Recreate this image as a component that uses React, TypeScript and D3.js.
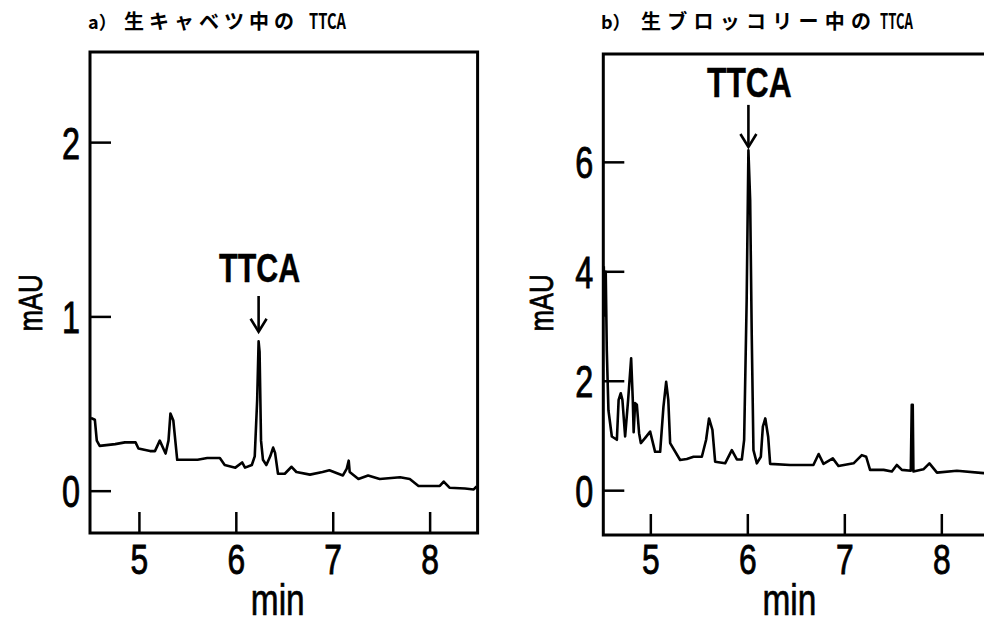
import React from 'react'
import * as d3 from 'd3'

// retention time (min) vs absorbance (mAU)
const cabbageTrace: [number, number][] = [
  [4.5, 0.42], [4.54, 0.41], [4.56, 0.29], [4.59, 0.26], [4.75, 0.27], [4.85, 0.28],
  [4.96, 0.28], [4.99, 0.245], [5.11, 0.23], [5.16, 0.23], [5.21, 0.29], [5.27, 0.216],
  [5.3, 0.29], [5.32, 0.445], [5.35, 0.405], [5.39, 0.18], [5.47, 0.18], [5.6, 0.18],
  [5.7, 0.19], [5.83, 0.19], [5.88, 0.15], [5.99, 0.135], [6.06, 0.165], [6.09, 0.135],
  [6.16, 0.15], [6.19, 0.2], [6.215, 0.52], [6.23, 0.86], [6.24, 0.8], [6.255, 0.29],
  [6.275, 0.18], [6.31, 0.15], [6.35, 0.2], [6.38, 0.25], [6.4, 0.22], [6.43, 0.1],
  [6.5, 0.1], [6.57, 0.14], [6.62, 0.11], [6.76, 0.095], [6.89, 0.11], [6.96, 0.12],
  [7.1, 0.09], [7.14, 0.13], [7.16, 0.175], [7.17, 0.11], [7.26, 0.07], [7.36, 0.09],
  [7.48, 0.07], [7.69, 0.08], [7.79, 0.07], [7.88, 0.03], [8.1, 0.03], [8.14, 0.055],
  [8.2, 0.02], [8.36, 0.015], [8.45, 0.01], [8.48, 0.027],
]

const broccoliTrace: [number, number][] = [
  [4.515, 4.1], [4.525, 3.2], [4.535, 4.0], [4.546, 2.57], [4.563, 1.47], [4.598, 0.99],
  [4.65, 0.93], [4.668, 1.66], [4.69, 1.78], [4.707, 1.66], [4.735, 0.99], [4.766, 1.66],
  [4.797, 2.42], [4.814, 1.66], [4.823, 1.07], [4.838, 1.6], [4.856, 1.57], [4.879, 1.05],
  [4.897, 0.87], [4.94, 0.96], [4.993, 1.08], [5.044, 0.71], [5.096, 0.71], [5.13, 1.53],
  [5.158, 1.99], [5.18, 1.66], [5.199, 0.87], [5.302, 0.56], [5.371, 0.58], [5.44, 0.62],
  [5.526, 0.62], [5.57, 0.93], [5.6, 1.32], [5.635, 1.11], [5.663, 0.53], [5.766, 0.5],
  [5.835, 0.74], [5.887, 0.57], [5.938, 0.57], [5.962, 0.93], [5.988, 3.48], [6.006, 6.22],
  [6.024, 5.31], [6.04, 2.88], [6.058, 0.74], [6.093, 0.5], [6.134, 0.62], [6.155, 1.17],
  [6.18, 1.32], [6.21, 0.98], [6.23, 0.49], [6.436, 0.47], [6.676, 0.47], [6.73, 0.67],
  [6.78, 0.49], [6.876, 0.59], [6.934, 0.45], [7.09, 0.5], [7.175, 0.65], [7.22, 0.62],
  [7.26, 0.38], [7.4, 0.38], [7.485, 0.35], [7.536, 0.47], [7.588, 0.38], [7.68, 0.365],
  [7.69, 1.57], [7.7, 1.57], [7.707, 0.35], [7.81, 0.39], [7.872, 0.5], [7.95, 0.33],
  [8.155, 0.365], [8.43, 0.32], [8.55, 0.32],
]

const xTicks = [5, 6, 7, 8]
const cabbageYTicks = [0, 1, 2]
const broccoliYTicks = [0, 2, 4, 6]

const cabbageTitle = ['a）', '生キャベツ中の', 'TTCA']
const broccoliTitle = ['b）', '生ブロッコリー中の', 'TTCA']

// TTCA peak: [time, arrow tail value, arrow tip value]
const cabbagePeak = [6.23, 1.12, 0.915]
const broccoliPeak = [6.006, 7.05, 6.28]

const LABEL_FONT = '"Liberation Sans", Arial, sans-serif'
const JP_FONT = '"Noto Sans CJK JP", sans-serif'

const Squeezed = ({ x, y, sx, size, rotate = 0, weight = 'normal', thick = 0.9, children }: any) => (
  <text
    transform={`translate(${x},${y}) rotate(${rotate}) scale(${sx},1)`}
    fontSize={size}
    fontWeight={weight}
    textAnchor="middle"
    fontFamily={LABEL_FONT}
    fill="#000"
    stroke="#000"
    strokeWidth={thick}
  >
    {children}
  </text>
)

const Panel = ({ cfg }: any) => {
  const x = d3.scaleLinear().domain(cfg.xDomain).range(cfg.xRange)
  const y = d3.scaleLinear().domain(cfg.yDomain).range(cfg.yRange)
  const [left, right] = cfg.xRange
  const [bottom, top] = cfg.yRange
  const line = d3.line<[number, number]>()
    .x(d => x(d[0]))
    .y(d => y(d[1]))
  const [pt, tail, tip] = cfg.peak
  const px = x(pt)
  const tipY = y(tip)

  return (
    <g>
      {/* title */}
      <text y={29} fontFamily={JP_FONT} fontSize={20} fontWeight={700} fill="#000">
        <tspan x={cfg.titleX[0]} fontSize={18}>{cfg.title[0]}</tspan>
        <tspan x={cfg.titleX[1]} textLength={cfg.titleLen[0]} lengthAdjust="spacing">{cfg.title[1]}</tspan>
        <tspan x={cfg.titleX[2]} fontSize={21} textLength={cfg.titleLen[1]} lengthAdjust="spacingAndGlyphs">{cfg.title[2]}</tspan>
      </text>

      <clipPath id={cfg.id}>
        <rect x={left} y={top} width={right - left} height={bottom - top} />
      </clipPath>
      <path
        d={line(cfg.trace) || ''}
        fill="none"
        stroke="#000"
        strokeWidth={2.6}
        strokeLinejoin="round"
        clipPath={`url(#${cfg.id})`}
      />

      {/* frame */}
      <rect x={left} y={top} width={right - left} height={bottom - top} fill="none" stroke="#000" strokeWidth={3} />

      {/* inward ticks */}
      {cfg.yTicks.map((t: number) => (
        <g key={'y' + t}>
          <line x1={left} x2={left + 21} y1={y(t)} y2={y(t)} stroke="#000" strokeWidth={2.5} />
          <Squeezed x={left - 19} y={y(t) + 16} sx={0.72} size={45}>{t}</Squeezed>
        </g>
      ))}
      {xTicks.map(t => (
        <g key={'x' + t}>
          <line x1={x(t)} x2={x(t)} y1={bottom} y2={bottom - 21} stroke="#000" strokeWidth={2.5} />
          <Squeezed x={x(t)} y={574} sx={0.74} size={43}>{t}</Squeezed>
        </g>
      ))}

      <Squeezed x={x(6.5) - 7} y={615} sx={0.76} size={44} thick={0.7}>min</Squeezed>
      <Squeezed x={cfg.yLabelX} y={303} sx={0.78} size={33} rotate={-90} thick={0.8}>mAU</Squeezed>

      {/* TTCA annotation */}
      <Squeezed
        x={px + 1}
        y={y(tail) - cfg.labelGap}
        sx={cfg.labelScale}
        size={cfg.labelSize}
        weight="bold"
        thick={0.4}
      >
        TTCA
      </Squeezed>
      <line x1={px} x2={px} y1={y(tail)} y2={tipY} stroke="#000" strokeWidth={2.6} />
      <path
        d={`M${px - 8},${tipY - 13} L${px},${tipY} L${px + 8},${tipY - 13}`}
        fill="none"
        stroke="#000"
        strokeWidth={2.6}
      />
    </g>
  )
}

const panels = [
  {
    id: 'clipA',
    title: cabbageTitle,
    titleX: [88, 124, 309],
    titleLen: [170, 37],
    trace: cabbageTrace,
    yTicks: cabbageYTicks,
    xDomain: [4.49, 8.49],
    xRange: [90, 477.6],
    yDomain: [-0.24, 2.52],
    yRange: [533, 52],
    peak: cabbagePeak,
    yLabelX: 42,
    labelGap: 14,
    labelScale: 0.76,
    labelSize: 40,
  },
  {
    id: 'clipB',
    title: broccoliTitle,
    titleX: [601, 641, 880],
    titleLen: [230, 33],
    trace: broccoliTrace,
    yTicks: broccoliYTicks,
    xDomain: [4.51, 8.51],
    xRange: [603.3, 991.3],
    yDomain: [-0.81, 7.98],
    yRange: [535, 54],
    peak: broccoliPeak,
    yLabelX: 553,
    labelGap: 8,
    labelScale: 0.74,
    labelSize: 43,
  },
]

export default function App() {
  return (
    <svg
      width={984}
      height={623}
      style={{ position: 'absolute', left: 0, top: 0, background: '#fff' }}
    >
      {panels.map(p => <Panel key={p.id} cfg={p} />)}
    </svg>
  )
}
